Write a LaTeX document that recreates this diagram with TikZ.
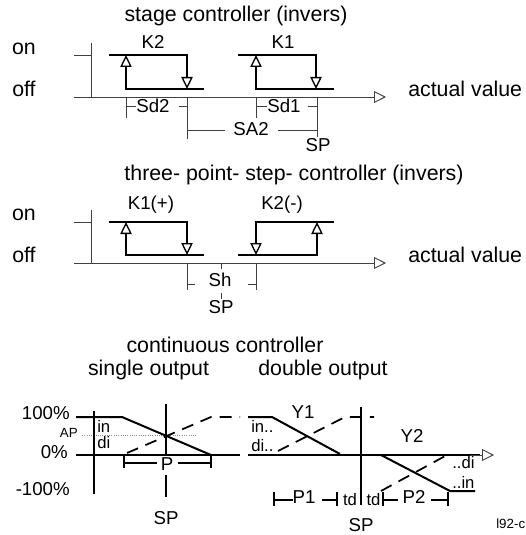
\documentclass[tikz,border=0pt]{standalone}
\usepackage{fontspec}
\setmainfont{Liberation Sans}
\usetikzlibrary{arrows.meta}

\begin{document}
\begin{tikzpicture}[
	x=0.75pt, y=-0.75pt,
	thinline/.style={line width=0.7pt, black!75},
	thickline/.style={line width=1.5pt},
	dashline/.style={line width=1.3pt, dash pattern=on 9pt off 6pt},
	axisline/.style={line width=0.7pt, black!75, -{Triangle[open, fill=white, length=9pt, width=9pt, line width=0.7pt]}},
	upanddown/.style={line width=1.3pt, -{Triangle[open, fill=white, length=9pt, width=8.5pt, line width=1pt]}},
	title/.style={font=\fontsize{16}{18}\selectfont, inner sep=0},
	label/.style={font=\fontsize{14}{16}\selectfont, inner sep=0},
	small/.style={font=\fontsize{12.5}{14}\selectfont, inner sep=0},
	tiny/.style={font=\fontsize{10}{12}\selectfont, inner sep=0}
]
\useasboundingbox (0,0) rectangle (525,535);

%stage controller
\node[title] (head1) at (236,16) {stage controller (invers)};
\node[title] (on1) at (24,49) {on};
\node[title] (off1) at (24,89) {off};
\node[title, anchor=west] (value1) at (408,89) {actual value};
\node[label] (k2a) at (153,42) {K2};
\node[label] (k1a) at (283,42) {K1};
\coordinate (a0) at (74,97);
\coordinate (a1) at (386,97);
\draw[axisline] (a0) -- (a1);
\draw[thinline] (91,43) -- (91,97);
\draw[thinline] (74,55) -- (91,55);
% K2
\coordinate (k2l) at (126,89);
\coordinate (k2r) at (187,55);
\draw[thickline] (109,55) -- (k2r) -- (187,70);
\draw[thickline] (204,89) -- (k2l) -- (126,75);
\draw[upanddown] (k2l) -- (126,55);
\draw[upanddown] (k2r) -- (187,89);
% K1
\coordinate (k1l) at (256,89);
\coordinate (k1r) at (316,55);
\draw[thickline] (238,55) -- (k1r) -- (316,70);
\draw[thickline] (334,89) -- (k1l) -- (256,75);
\draw[upanddown] (k1l) -- (256,55);
\draw[upanddown] (k1r) -- (316,89);
% ranges
\node[label] (sd2) at (153,106) {Sd2};
\node[label] (sd1) at (284,106) {Sd1};
\node[label] (sa2) at (251,129) {SA2};
\node[label] (sp1) at (318,145) {SP};
\draw[thinline] (126,97) -- (126,118);
\draw[thinline] (187,97) -- (187,139);
\draw[thinline] (256,97) -- (256,118);
\draw[thinline] (317,97) -- (317,137);
\draw[thinline] (126,106) -- (sd2);
\draw[thinline] (179,106) -- (187,106);
\draw[thinline] (256,106) -- (sd1);
\draw[thinline] (308,106) -- (317,106);
\draw[thinline] (187,130) -- (225,130);
\draw[thinline] (278,130) -- (317,130);

%three point controller
\node[title] (head2) at (294,175) {three- point- step- controller (invers)};
\node[title] (on2) at (24,215) {on};
\node[title] (off2) at (24,255) {off};
\node[title, anchor=west] (value2) at (408,255) {actual value};
\node[label] (kplus) at (151,205) {K1(+)};
\node[label] (kminus) at (282,205) {K2(-)};
\coordinate (b0) at (74,263);
\coordinate (b1) at (386,263);
\draw[axisline] (b0) -- (b1);
\draw[thinline] (91,210) -- (91,263);
\draw[thinline] (74,222) -- (91,222);
% K1
\coordinate (kpl) at (126,255);
\coordinate (kpr) at (187,222);
\draw[thickline] (109,222) -- (kpr) -- (187,237);
\draw[thickline] (204,255) -- (kpl) -- (126,241);
\draw[upanddown] (kpl) -- (126,222);
\draw[upanddown] (kpr) -- (187,255);
% K2
\coordinate (kml) at (256,222);
\coordinate (kmr) at (317,255);
\draw[thickline] (334,222) -- (kml) -- (256,237);
\draw[thickline] (238,255) -- (kmr) -- (317,241);
\draw[upanddown] (kml) -- (256,255);
\draw[upanddown] (kmr) -- (317,222);
% ranges
\node[label] (sh) at (220,280) {Sh};
\node[label] (sp2) at (221,307) {SP};
\draw[thinline] (221,263) -- (221,269);
\draw[thinline] (221,293) -- (221,299);
\draw[thinline] (187,263) -- (187,290);
\draw[thinline] (256,263) -- (256,290);
\draw[thinline] (187,284) -- (195,284);
\draw[thinline] (248,284) -- (256,284);

%continuous controller
\node[title] (head3) at (225,345) {continuous controller};
\node[title] (head4) at (148.5,370) {single output};
\node[title] (head5) at (323,370) {double output};

% single output
\node[label, anchor=east] (p100) at (70,413) {100\%};
\node[label, anchor=east] (p0) at (68,452) {0\%};
\node[label, anchor=east] (m100) at (70,489) {-100\%};
\node[tiny, anchor=east] (ap) at (78,433) {AP};
\node[small, anchor=west] (in1) at (97,426) {in};
\node[small, anchor=west] (di1) at (97,443) {di};
\node[label] (p) at (167,464) {P};
\node[label] (sp3) at (166,518) {SP};
\draw[line width=0.7pt, black!45, densely dotted] (82,435) -- (197,435);
\draw[thickline] (94,411) -- (94,494);
\draw[thickline] (166,404) -- (166,455);
\draw[thickline] (76,455) -- (240,455);
\draw[thickline] (76,417) -- (122,417) -- (211,455);
\draw[dashline] (127,453) -- (211,417) -- (240,417);
\draw[thickline] (124,455) -- (124,468);
\draw[thickline] (211,455) -- (211,468);
\draw[thickline] (124,463) -- (157,463);
\draw[thickline] (178,463) -- (211,463);
\draw[thickline] (166,475) -- (166,497);

% double output
\node[small, anchor=west] (in2) at (251,426) {in..};
\node[small, anchor=west] (di2) at (251,446) {di..};
\node[label] (y1) at (303,412) {Y1};
\node[label] (y2) at (412,436) {Y2};
\node[small, anchor=west] (di3) at (452,463) {..di};
\node[small, anchor=west] (in3) at (452,482) {..in};
\node[label] (p1) at (304,497) {P1};
\node[small] (td1) at (350,500) {td};
\node[small] (td2) at (373.5,500) {td};
\node[label] (p2) at (414,497) {P2};
\node[label] (sp4) at (361,525.5) {SP};
\node[tiny, anchor=west] (tag) at (496,524) {l92-c};
\draw[thickline] (361,407) -- (361,505);
\coordinate (c0) at (248,455);
\coordinate (c1) at (494,455);
\draw[thickline] (c0) -- (480,455);
\draw[axisline] (470,455) -- (c1);
\draw[thickline] (248,417) -- (272,417) -- (340,454);
\draw[dashline] (278,451) -- (345,417) -- (374,417);
\draw[thickline] (381,455) -- (450,491) -- (475,491);
\draw[dashline] (381,491) -- (447,455);
\draw[thickline] (274,492) -- (274,506);
\draw[thickline] (337,492) -- (337,506);
\draw[thickline] (383,492) -- (383,506);
\draw[thickline] (448,492) -- (448,506);
\draw[thickline] (274,500) -- (293,500);
\draw[thickline] (322,500) -- (337,500);
\draw[thickline] (383,500) -- (398,500);
\draw[thickline] (431,500) -- (448,500);
\end{tikzpicture}
\end{document}
